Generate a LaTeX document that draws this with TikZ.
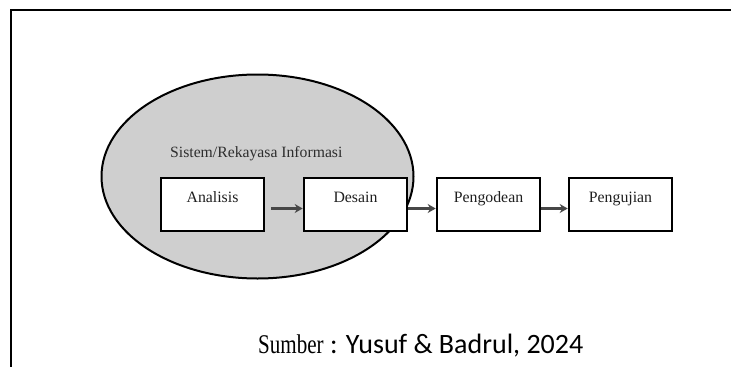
\documentclass[tikz,border=0pt]{standalone}
\usepackage{fontspec}
\usepackage{graphicx}
\setmainfont{Liberation Serif}
\newfontfamily\calfont{Carlito}
\usetikzlibrary{arrows.meta,shapes.geometric}
\tikzset{
  stagebox/.style={draw=black, line width=2.6pt, fill=white, minimum width=103pt, minimum height=53pt, inner sep=0pt},
  stagetext/.style={font=\fontsize{15.8}{16}\selectfont, text=black!88, anchor=base, inner sep=0pt},
  flowarrow/.style={draw=black!72, line width=2.6pt, -{Stealth[length=8pt,width=9pt]}},
}
\begin{document}
\begin{tikzpicture}[x=1pt,y=-1pt]
\fill[white] (0,0) rectangle (731,367);
% frame
\coordinate (ftop) at (731,10);
\coordinate (fcorner) at (11,10);
\coordinate (fbot) at (11,367);
\draw[line width=2.6pt] (ftop) -- (fcorner) -- (fbot);
% ellipse
\node[draw=black, line width=2pt, fill=black!19, shape=ellipse, minimum width=312pt, minimum height=204pt, inner sep=0pt] (sys) at (257.5,176.5) {};
\node[font=\fontsize{15.7}{16}\selectfont, text=black!82, anchor=base west, inner sep=0pt] (systxt) at (170,157) {Sistem/Rekayasa Informasi};
% boxes
\node[stagebox] (ana) at (212.5,204.5) {};
\node[stagebox] (des) at (355.5,204.5) {};
\node[stagebox] (kod) at (488.5,204.5) {};
\node[stagebox] (uji) at (620.5,204.5) {};
\node[stagetext] (anat) at (212.5,202.5) {Analisis};
\node[stagetext] (dest) at (355.5,202.5) {Desain};
\node[stagetext] (kodt) at (488.5,202.5) {Pengodean};
\node[stagetext] (ujit) at (620.5,202.5) {Pengujian};
% arrows
\draw[flowarrow, shorten <=6pt] ([yshift=-4pt]ana.east) -- ([yshift=-4pt]des.west);
\draw[flowarrow] ([yshift=-4pt]des.east) -- ([yshift=-4pt]kod.west);
\draw[flowarrow] ([yshift=-4pt]kod.east) -- ([yshift=-4pt]uji.west);
% caption
\node[anchor=base west, inner sep=0pt] (cap) at (258,353) {\scalebox{0.78}[1]{\fontsize{27}{28}\selectfont Sumber}\calfont\fontsize{28}{30}\selectfont{} : Yusuf \& Badrul, 2024};
\pgfresetboundingbox
\useasboundingbox (0,0) rectangle (731,367);
\end{tikzpicture}
\end{document}
